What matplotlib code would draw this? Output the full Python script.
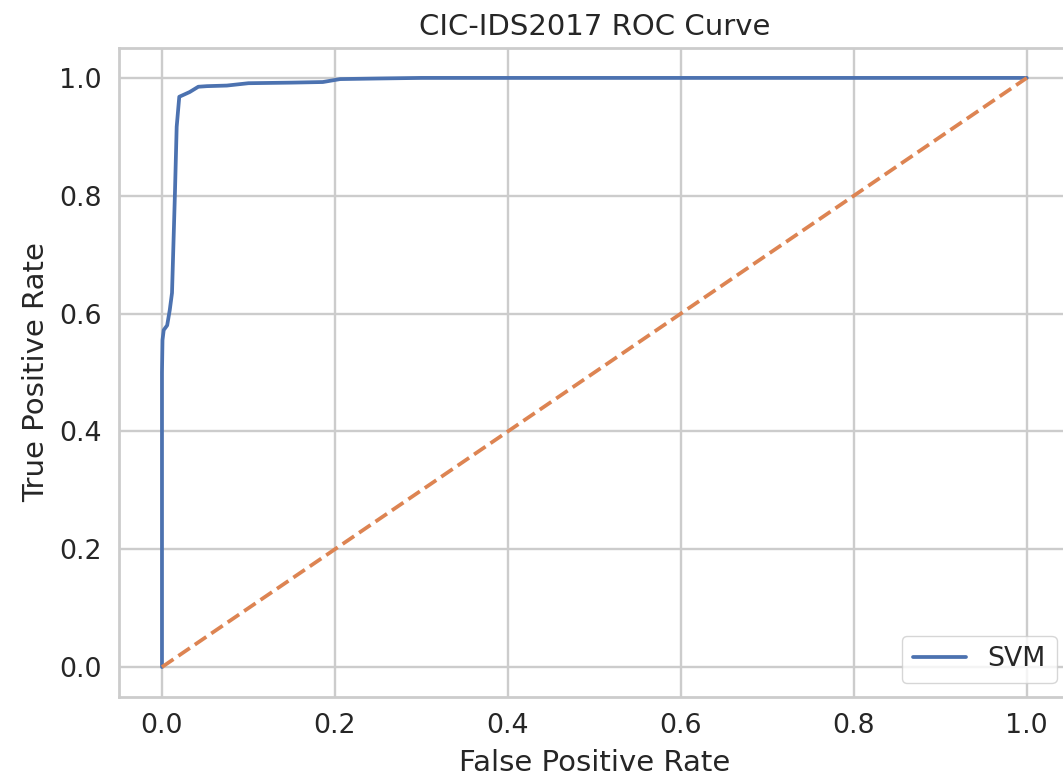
import matplotlib
matplotlib.use("Agg")
import matplotlib.pyplot as plt
import seaborn as sns

# ROC points
fpr = [0.0, 0.0, 0.0006, 0.002, 0.006, 0.009, 0.0116, 0.015, 0.017, 0.020,
       0.026, 0.032, 0.042, 0.052, 0.075, 0.10, 0.15, 0.186, 0.206, 0.25,
       0.30, 0.50, 1.0]
tpr = [0.0, 0.50, 0.555, 0.572, 0.58, 0.606, 0.635, 0.805, 0.917, 0.968,
       0.972, 0.976, 0.985, 0.986, 0.987, 0.991, 0.992, 0.993, 0.998, 0.999,
       1.0, 1.0, 1.0]
chance = [0.0, 1.0]

sns.set_theme(style="whitegrid")
plt.rcParams['font.family'] = ['DejaVu Sans']

fig = plt.figure(figsize=(10.63, 7.84), dpi=100)
ax = fig.add_axes([0.1117, 0.1116, 0.8949, 0.8266])

ax.plot(fpr, tpr, label="SVM", linewidth=2.7)
ax.plot(chance, chance, linestyle="--", linewidth=2.7)

ax.set_xlabel("False Positive Rate", fontsize=21, labelpad=7)
ax.set_ylabel("True Positive Rate", fontsize=21, labelpad=7)
ax.set_title("CIC-IDS2017 ROC Curve", fontsize=21, pad=10)
ax.tick_params(labelsize=19.3, pad=6)
for s in ax.spines.values():
    s.set_linewidth(2)
ax.grid(linewidth=1.7)
ax.legend(loc="lower right", fontsize=19.3)

fig.savefig("out.png", dpi=100)
